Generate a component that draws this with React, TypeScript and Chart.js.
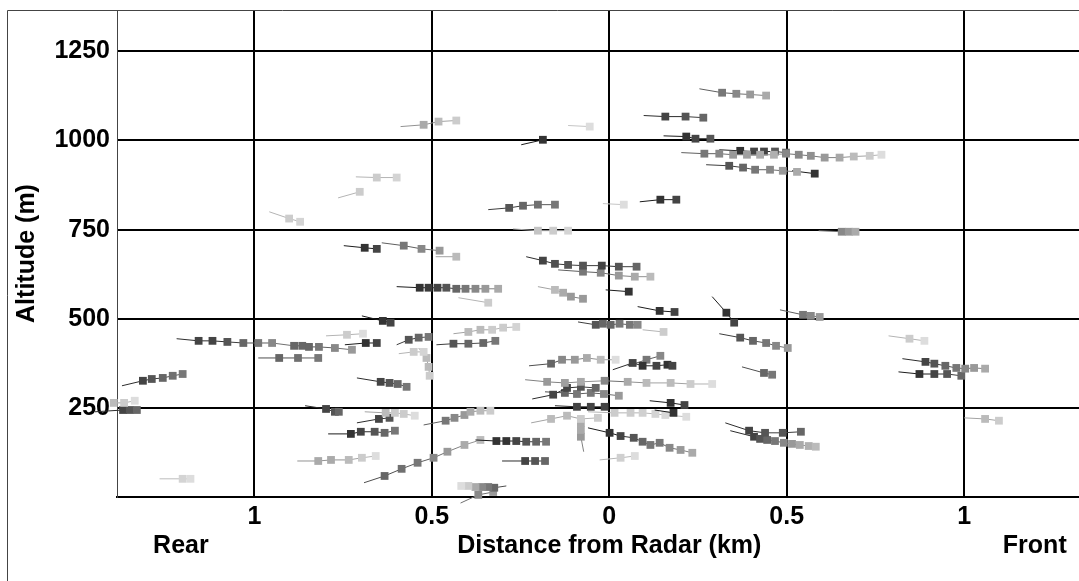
import React, { useEffect, useRef } from "react";
import { Chart, registerables } from "chart.js";

Chart.register(...registerables);

// ---- axis setup ----
const X_MIN = -1.387;
const X_MAX = 1.387;
const Y_MIN = 0;
const Y_MAX = 1366;
const xTickValues = [-1, -0.5, 0, 0.5, 1];
const yTickValues = [250, 500, 750, 1000, 1250];
const xTitle = "Distance from Radar (km)";
const yTitle = "Altitude (m)";
const edgeLabels = ["Rear", "Front"];
const edgeLabelKm = [-1.207, 1.199];

// ---- tracks: first point of each track is the trailing tail (no marker) ----
const trackX: number[][] = [
  [0.254, 0.318, 0.358, 0.397, 0.442],
  [0.097, 0.158, 0.215, 0.265],
  [0.153, 0.217, 0.243, 0.285],
  [0.203, 0.268, 0.31, 0.349, 0.388, 0.425, 0.464, 0.498, 0.534, 0.568, 0.607, 0.649, 0.689, 0.734, 0.767],
  [0.31, 0.369, 0.408, 0.436, 0.467, 0.498],
  [0.273, 0.338, 0.377, 0.411, 0.453, 0.489, 0.529],
  [0.515, 0.579],
  [-0.248, -0.187],
  [-0.116, -0.055],
  [-0.588, -0.523, -0.481, -0.431],
  [-0.958, -0.902, -0.871],
  [-0.764, -0.703],
  [-0.714, -0.655, -0.599],
  [-0.748, -0.689, -0.655],
  [-0.641, -0.579, -0.529, -0.478],
  [-0.489, -0.431],
  [-0.599, -0.534, -0.509, -0.484, -0.459, -0.431, -0.405, -0.377, -0.349, -0.313],
  [-0.341, -0.282, -0.243, -0.201, -0.153],
  [-0.018, 0.041],
  [0.086, 0.144, 0.189],
  [-0.271, -0.201, -0.158, -0.116],
  [0.59, 0.655, 0.675, 0.694],
  [-0.234, -0.187, -0.153, -0.116, -0.074, -0.021, 0.027, 0.077],
  [-0.144, -0.074, -0.024, 0.027, 0.072, 0.116],
  [-0.201, -0.153, -0.13, -0.108, -0.074],
  [-0.01, 0.055],
  [-0.425, -0.341],
  [0.08, 0.142, 0.184],
  [0.29, 0.33, 0.352],
  [0.481, 0.546, 0.568, 0.593],
  [-0.088, -0.038, -0.018, 0.004, 0.029, 0.058, 0.08],
  [0.094, 0.153],
  [0.31, 0.369, 0.405, 0.442, 0.47, 0.503],
  [0.787, 0.846, 0.888],
  [0.826, 0.891, 0.916, 0.947, 0.978, 1.003, 1.028, 1.059],
  [0.815, 0.874, 0.916, 0.952, 0.992],
  [0.374, 0.436, 0.459],
  [0.01, 0.066, 0.094, 0.133, 0.164, 0.178],
  [0.052, 0.105, 0.144],
  [-0.237, -0.175, -0.125, -0.08, -0.013, 0.052, 0.105, 0.173, 0.229, 0.29],
  [-0.226, -0.164, -0.133, -0.097, -0.063, -0.024, 0.018],
  [-0.217, -0.158, -0.119, -0.08, -0.038],
  [-0.181, -0.125, -0.091, -0.052, -0.015, 0.027],
  [-0.153, -0.091, -0.052, -0.013],
  [0.114, 0.173, 0.212],
  [0.128, 0.181],
  [-0.06, 0.015, 0.06, 0.094, 0.13, 0.158, 0.217],
  [-0.22, -0.164, -0.119, -0.08, -0.032],
  [-0.072, -0.08, -0.08, -0.08],
  [-0.06, 0.001, 0.032, 0.069, 0.094, 0.116, 0.142, 0.17, 0.201, 0.234],
  [-0.027, 0.032, 0.072],
  [-0.377, -0.318, -0.29, -0.262, -0.234, -0.206, -0.178],
  [-0.302, -0.237, -0.209, -0.181],
  [-0.691, -0.633, -0.585, -0.54, -0.495, -0.456, -0.408, -0.363],
  [-0.523, -0.461, -0.436, -0.408, -0.391, -0.363, -0.335],
  [-0.29, -0.324, -0.341, -0.358, -0.377, -0.397, -0.417],
  [-0.419, -0.369, -0.327],
  [-1.449, -1.426, -1.396, -1.367, -1.337],
  [-1.449, -1.37, -1.351, -1.331],
  [-1.267, -1.202, -1.18],
  [-0.857, -0.798, -0.773, -0.762],
  [-0.689, -0.63, -0.604, -0.579, -0.548],
  [-0.711, -0.649, -0.619],
  [-0.792, -0.728, -0.7, -0.661, -0.633, -0.604],
  [-0.879, -0.82, -0.784, -0.734, -0.697, -0.658],
  [-1.219, -1.157, -1.118, -1.076, -1.031, -0.989, -0.95, -0.888, -0.865, -0.846, -0.818, -0.773, -0.725],
  [-0.798, -0.739, -0.694],
  [-0.745, -0.686, -0.655],
  [-0.989, -0.93, -0.877, -0.82],
  [-1.373, -1.314, -1.289, -1.258, -1.23, -1.202],
  [-0.697, -0.638, -0.616],
  [-0.711, -0.644, -0.619, -0.596, -0.571],
  [0.327, 0.394, 0.439, 0.489, 0.54],
  [0.341, 0.408, 0.425, 0.445, 0.467, 0.492, 0.515, 0.537, 0.562, 0.582],
  [1.0, 1.059, 1.098],
  [-0.599, -0.565, -0.537, -0.509],
  [-0.487, -0.439, -0.397, -0.355, -0.321],
  [-0.593, -0.551, -0.523],
  [-0.537, -0.515, -0.509, -0.506],
  [-0.439, -0.397, -0.363, -0.33, -0.299, -0.262],
];

const trackY: number[][] = [
  [1145, 1134, 1131, 1129, 1126],
  [1070, 1067, 1067, 1064],
  [1013, 1011, 1005, 1005],
  [966, 963, 963, 960, 960, 960, 960, 963, 960, 957, 952, 952, 955, 957, 960],
  [974, 971, 969, 969, 969, 966],
  [932, 929, 924, 918, 918, 915, 912],
  [915, 907],
  [988, 1002],
  [1042, 1039],
  [1039, 1044, 1053, 1056],
  [800, 781, 772],
  [839, 856],
  [898, 896, 896],
  [705, 699, 696],
  [713, 705, 696, 691],
  [674, 674],
  [590, 587, 587, 587, 587, 584, 584, 584, 584, 584],
  [806, 811, 817, 820, 820],
  [823, 820],
  [828, 834, 834],
  [752, 747, 747, 747],
  [747, 744, 744, 744],
  [674, 663, 654, 651, 649, 649, 646, 646],
  [637, 632, 629, 621, 618, 618],
  [590, 581, 573, 562, 556],
  [581, 576],
  [559, 545],
  [534, 522, 519],
  [562, 517, 489],
  [525, 511, 508, 505],
  [491, 483, 486, 483, 486, 483, 483],
  [469, 463],
  [458, 447, 438, 432, 424, 418],
  [452, 444, 438],
  [388, 379, 374, 368, 362, 360, 362, 360],
  [351, 345, 345, 345, 340],
  [365, 348, 343],
  [357, 376, 368, 368, 371, 368],
  [368, 385, 396],
  [329, 323, 320, 323, 326, 323, 320, 320, 317, 317],
  [368, 374, 385, 385, 390, 385, 385],
  [275, 287, 306, 309, 306],
  [295, 292, 289, 292, 289, 284],
  [256, 253, 253, 253],
  [270, 264, 258],
  [244, 236],
  [239, 236, 236, 236, 233, 230, 225],
  [208, 219, 228, 219, 222],
  [127, 169, 188, 208],
  [194, 180, 171, 166, 155, 146, 152, 138, 132, 124],
  [104, 110, 115],
  [160, 157, 157, 157, 155, 155, 155],
  [101, 101, 101, 101],
  [40, 59, 79, 96, 110, 127, 146, 160],
  [202, 214, 222, 230, 239, 242, 242],
  [31, 26, 28, 28, 28, 31, 31],
  [-17, 6, 14],
  [256, 261, 264, 264, 270],
  [239, 244, 244, 244],
  [51, 51, 51],
  [256, 247, 239, 239],
  [239, 236, 236, 233, 228],
  [208, 219, 222],
  [177, 177, 183, 183, 180, 186],
  [101, 101, 104, 104, 110, 115],
  [444, 438, 438, 435, 432, 432, 432, 424, 424, 421, 421, 418, 413],
  [452, 455, 458],
  [427, 432, 432],
  [390, 390, 390, 390],
  [312, 326, 331, 334, 340, 345],
  [508, 494, 489],
  [334, 323, 320, 317, 309],
  [208, 186, 180, 180, 183],
  [186, 169, 163, 160, 157, 152, 149, 146, 143, 141],
  [222, 219, 214],
  [427, 441, 447, 449],
  [427, 430, 430, 432, 438],
  [402, 407, 407],
  [418, 390, 365, 340],
  [458, 463, 469, 469, 475, 477],
];

// gray level of each marker (tail excluded)
const trackShade: number[][] = [
  [0x77, 0x88, 0x99, 0xaa],
  [0x44, 0x55, 0x66],
  [0x33, 0x44, 0x55],
  [0x77, 0x88, 0x99, 0xa0, 0xaa, 0xb0, 0x88, 0x88, 0x90, 0x99, 0xa8, 0xbb, 0xcc, 0xdd],
  [0x33, 0x44, 0x44, 0x55, 0x66],
  [0x55, 0x66, 0x77, 0x88, 0x99, 0xaa],
  [0x33],
  [0x33],
  [0xdd],
  [0xaa, 0xbb, 0xcc],
  [0xcc, 0xd4],
  [0xcc],
  [0xcc, 0xd4],
  [0x33, 0x44],
  [0x77, 0x88, 0x99],
  [0xbb],
  [0x33, 0x3a, 0x44, 0x55, 0x66, 0x77, 0x88, 0x99, 0xaa],
  [0x55, 0x66, 0x70, 0x77],
  [0xdd],
  [0x33, 0x44],
  [0xc4, 0xcc, 0xd4],
  [0x88, 0x99, 0xaa],
  [0x44, 0x50, 0x55, 0x55, 0x44, 0x55, 0x66],
  [0x77, 0x88, 0x99, 0xaa, 0xbb],
  [0xbb, 0xaa, 0x99, 0x99],
  [0x33],
  [0xcc],
  [0x33, 0x44],
  [0x33, 0x44],
  [0x77, 0x88, 0x99],
  [0x55, 0x66, 0x66, 0x77, 0x77, 0x88],
  [0xcc],
  [0x55, 0x66, 0x77, 0x88, 0x99],
  [0xcc, 0xdd],
  [0x44, 0x55, 0x66, 0x77, 0x88, 0x99, 0xaa],
  [0x33, 0x44, 0x55, 0x66],
  [0x66, 0x77],
  [0x44, 0x33, 0x44, 0x33, 0x44],
  [0x77, 0x88],
  [0x99, 0xa0, 0xaa, 0x88, 0xaa, 0xbb, 0xbb, 0xcc, 0xdd],
  [0x66, 0x88, 0x99, 0xaa, 0xbb, 0xdd],
  [0x44, 0x44, 0x55, 0x66],
  [0x66, 0x77, 0x77, 0x88, 0x99],
  [0x44, 0x44, 0x44],
  [0x33, 0x44],
  [0x33],
  [0xcc, 0xcc, 0xd0, 0xd4, 0xd8, 0xdd],
  [0xbb, 0xbb, 0xcc, 0xcc],
  [0x99, 0xaa, 0xaa],
  [0x33, 0x44, 0x55, 0x66, 0x77, 0x77, 0x88, 0x99, 0xaa],
  [0xd0, 0xdd],
  [0x33, 0x33, 0x44, 0x55, 0x66, 0x77],
  [0x44, 0x55, 0x66],
  [0x66, 0x70, 0x77, 0x88, 0x99, 0xaa, 0xbb],
  [0x77, 0x88, 0x99, 0xaa, 0xbb, 0xcc],
  [0x66, 0x77, 0x88, 0xaa, 0xcc, 0xdd],
  [0x88, 0x99],
  [0xaa, 0xbb, 0xcc, 0xdd],
  [0x44, 0x55, 0x66],
  [0xd4, 0xdd],
  [0x44, 0x55, 0x66],
  [0xbb, 0xcc, 0xcc, 0xdd],
  [0x44, 0x55],
  [0x33, 0x44, 0x55, 0x66, 0x77],
  [0xaa, 0xaa, 0xbb, 0xcc, 0xdd],
  [0x44, 0x44, 0x55, 0x66, 0x77, 0x88, 0x66, 0x66, 0x66, 0x77, 0x88, 0x99],
  [0xcc, 0xdd],
  [0x33, 0x44],
  [0x66, 0x70, 0x77],
  [0x44, 0x55, 0x66, 0x70, 0x77],
  [0x33, 0x44],
  [0x44, 0x55, 0x66, 0x77],
  [0x44, 0x55, 0x55, 0x66],
  [0x44, 0x55, 0x66, 0x77, 0x88, 0x99, 0xaa, 0xb0, 0xbb],
  [0xbb, 0xcc],
  [0x55, 0x66, 0x77],
  [0x55, 0x66, 0x66, 0x77],
  [0xcc, 0xd4],
  [0xbb, 0xbb, 0xcc],
  [0xbb, 0xbb, 0xcc, 0xcc, 0xd4],
];

const CANVAS_W = 1107;
const CANVAS_H = 581;
const FONT_FAMILY = "'Liberation Sans', Arial, Helvetica, sans-serif";

function gray(g: number): string {
  const v = Math.max(0, Math.min(255, Math.round(g)));
  return `rgb(${v},${v},${v})`;
}

export default function App() {
  const ref = useRef<HTMLCanvasElement | null>(null);

  useEffect(() => {
    const canvas = ref.current;
    if (!canvas) return;

    const datasets = trackX.map((xs, i) => {
      const ys = trackY[i];
      const shades = trackShade[i];
      const pointCols = xs.map((_, j) => gray(j === 0 ? shades[0] : shades[j - 1]));
      const lineCols = xs.map((_, j) => gray((j === 0 ? shades[0] : shades[j - 1]) - 0x18));
      return {
        label: `track ${i + 1}`,
        data: xs.map((x, j) => ({ x, y: ys[j] })),
        showLine: true,
        borderWidth: 1,
        borderColor: lineCols[1],
        segment: {
          borderColor: (c: any) => (c.p0DataIndex === 0 ? lineCols[1] : lineCols[c.p0DataIndex]),
        },
        pointStyle: "rect",
        pointRadius: xs.map((_, j) => (j === 0 ? 0 : 5.5)),
        pointHoverRadius: xs.map((_, j) => (j === 0 ? 0 : 5.5)),
        pointBackgroundColor: pointCols,
        pointBorderColor: pointCols,
        pointBorderWidth: 0,
        clip: false as any,
      };
    });

    const decor = {
      id: "decor",
      afterDraw(chart: any) {
        const ctx = chart.ctx as CanvasRenderingContext2D;
        const xs = chart.scales.x;
        ctx.save();
        ctx.strokeStyle = "#444";
        ctx.lineWidth = 1;
        ctx.beginPath();
        ctx.moveTo(7.5, CANVAS_H);
        ctx.lineTo(7.5, 10.5);
        ctx.lineTo(CANVAS_W, 10.5);
        ctx.stroke();
        ctx.fillStyle = "#000";
        ctx.font = `bold 25px ${FONT_FAMILY}`;
        ctx.textAlign = "center";
        ctx.textBaseline = "middle";
        edgeLabels.forEach((t, k) => {
          ctx.fillText(t, xs.getPixelForValue(edgeLabelKm[k]), CANVAS_H - 35);
        });
        ctx.restore();
      },
    };

    const chart = new Chart(canvas, {
      type: "scatter",
      data: { datasets: datasets as any },
      options: {
        animation: false,
        responsive: false,
        devicePixelRatio: 1,
        events: [],
        layout: { padding: { top: 10, left: 0, right: 0, bottom: 0 } },
        plugins: {
          legend: { display: false },
          tooltip: { enabled: false },
        },
        scales: {
          x: {
            type: "linear",
            min: X_MIN,
            max: X_MAX,
            afterBuildTicks: (s: any) => {
              s.ticks = xTickValues.map((v) => ({ value: v }));
            },
            afterFit: (s: any) => {
              s.height = 84;
              s.paddingLeft = 0;
              s.paddingRight = 0;
            },
            ticks: {
              callback: (v: any) => String(Math.abs(Number(v))),
              color: "#000",
              font: { family: FONT_FAMILY, size: 25, weight: "bold" },
              padding: 5,
              maxRotation: 0,
              autoSkip: false,
            },
            grid: { color: "#000", lineWidth: 2, drawTicks: false },
            border: { display: true, color: "#000", width: 2 },
            title: {
              display: true,
              text: xTitle,
              color: "#000",
              font: { family: FONT_FAMILY, size: 25, weight: "bold" },
              padding: { top: 0, bottom: 20 },
            },
          },
          y: {
            type: "linear",
            min: Y_MIN,
            max: Y_MAX,
            afterBuildTicks: (s: any) => {
              s.ticks = yTickValues.map((v) => ({ value: v }));
            },
            afterFit: (s: any) => {
              s.width = 117;
              s.paddingTop = 0;
              s.paddingBottom = 0;
            },
            ticks: {
              callback: (v: any) => String(v),
              color: "#000",
              font: { family: FONT_FAMILY, size: 25, weight: "bold" },
              padding: 7,
              autoSkip: false,
            },
            grid: { color: "#000", lineWidth: 2, drawTicks: false },
            border: { display: true, color: "#444", width: 1 },
            title: {
              display: true,
              text: yTitle,
              color: "#000",
              font: { family: FONT_FAMILY, size: 25, weight: "bold" },
              padding: { top: 12, bottom: 0 },
            },
          },
        },
      },
      plugins: [decor],
    } as any);

    return () => chart.destroy();
  }, []);

  return (
    <div
      style={{
        position: "fixed",
        left: 0,
        top: 0,
        width: 1079,
        height: 581,
        overflow: "hidden",
        background: "#fff",
      }}
    >
      <canvas ref={ref} width={CANVAS_W} height={CANVAS_H} style={{ display: "block" }} />
    </div>
  );
}
